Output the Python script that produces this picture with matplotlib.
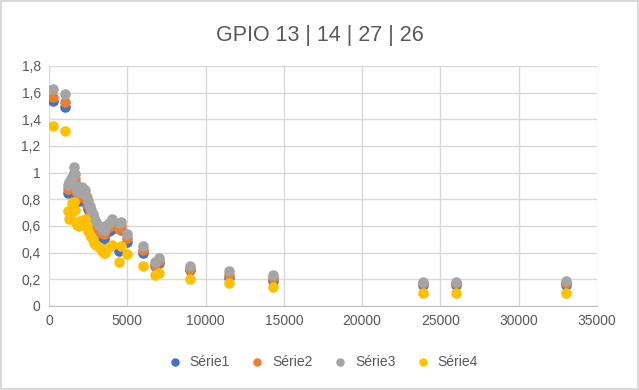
import matplotlib
matplotlib.use("Agg")
import matplotlib.pyplot as plt
from matplotlib.ticker import FuncFormatter

# frequencies (x) and readings of the four series
freq = [250, 1000, 1200, 1300, 1400, 1500, 1600, 1650, 1700, 1800, 1900, 2000,
        2100, 2200, 2300, 2400, 2500, 2600, 2700, 2800, 2900, 3000, 3200, 3400,
        3500, 3600, 3800, 4000, 4500, 4600, 5000, 6000, 6800, 7000, 9000, 11500,
        14300, 23900, 26000, 33000]

serie1 = [1.54, 1.49, 0.85, 0.87, 0.89, 0.91, 0.97, 0.92, 0.84, 0.81, 0.79, 0.80,
          0.83, 0.82, 0.81, 0.76, 0.73, 0.69, 0.66, 0.63, 0.60, 0.57, 0.54, 0.52,
          0.50, 0.54, 0.56, 0.58, 0.41, 0.57, 0.48, 0.40, 0.30, 0.32, 0.27, 0.21,
          0.19, 0.16, 0.16, 0.16]
serie2 = [1.57, 1.53, 0.88, 0.90, 0.92, 0.94, 1.00, 0.95, 0.87, 0.84, 0.82, 0.83,
          0.86, 0.85, 0.84, 0.79, 0.76, 0.72, 0.69, 0.66, 0.63, 0.60, 0.57, 0.55,
          0.54, 0.57, 0.59, 0.61, 0.58, 0.60, 0.51, 0.42, 0.31, 0.34, 0.28, 0.23,
          0.21, 0.17, 0.17, 0.17]
serie3 = [1.63, 1.59, 0.91, 0.93, 0.95, 0.97, 1.04, 0.99, 0.90, 0.87, 0.85, 0.86,
          0.89, 0.88, 0.87, 0.82, 0.79, 0.75, 0.72, 0.69, 0.66, 0.63, 0.60, 0.58,
          0.57, 0.60, 0.62, 0.65, 0.62, 0.63, 0.54, 0.45, 0.33, 0.36, 0.30, 0.26,
          0.23, 0.18, 0.18, 0.19]
serie4 = [1.35, 1.31, 0.71, 0.65, 0.70, 0.77, 0.78, 0.72, 0.63, 0.61, 0.60, 0.64,
          0.62, 0.63, 0.65, 0.60, 0.56, 0.53, 0.52, 0.50, 0.47, 0.46, 0.44, 0.41,
          0.40, 0.40, 0.44, 0.46, 0.33, 0.45, 0.39, 0.30, 0.23, 0.25, 0.20, 0.17,
          0.14, 0.10, 0.10, 0.10]

names = ["Série1", "Série2", "Série3", "Série4"]
colors = ["#4472C4", "#ED7D31", "#A5A5A5", "#FFC000"]

plt.rcParams["font.family"] = ["Liberation Sans", "DejaVu Sans"]
txt = "#595959"

fig = plt.figure(figsize=(6.39, 3.9), dpi=100)
fig.patch.set_edgecolor("#d9d9d9")
fig.patch.set_linewidth(1.5)
ax = fig.add_axes([0.0767, 0.2154, 0.8576, 0.6154])

for ys, name, c in zip([serie1, serie2, serie3, serie4], names, colors):
    ax.scatter(freq, ys, s=58, color=c, label=name, zorder=3, linewidths=0)

ax.set_xlim(0, 35000)
ax.set_ylim(0, 1.8)
ax.set_xticks(range(0, 35001, 5000))
ax.set_yticks([i * 0.2 for i in range(10)])
ax.yaxis.set_major_formatter(FuncFormatter(lambda v, p: ("%g" % round(v, 1)).replace(".", ",")))
ax.grid(True, color="#d9d9d9", linewidth=1)
ax.set_axisbelow(True)
for s in ["top", "right", "left"]:
    ax.spines[s].set_visible(False)
ax.spines["bottom"].set_color("#bfbfbf")
ax.tick_params(length=0, labelsize=10, colors=txt, pad=6)

fig.suptitle("GPIO 13 | 14 | 27 | 26", y=0.935, fontsize=15.5, color=txt)

fig.legend(loc="center", bbox_to_anchor=(0.5, 0.072), ncol=4, frameon=False,
           fontsize=10, labelcolor=txt, handletextpad=0.05, columnspacing=1.0,
           markerscale=0.8)

fig.savefig("out.png", dpi=100)
